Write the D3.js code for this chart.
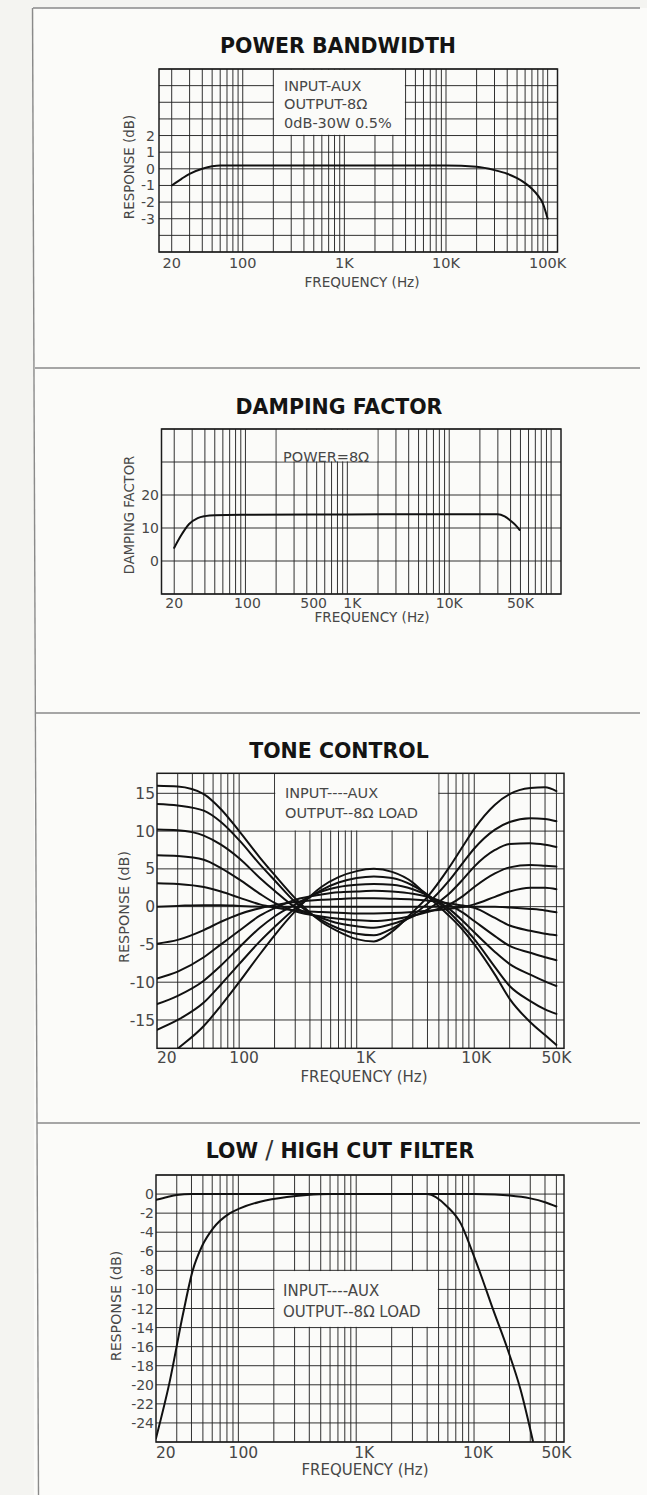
<!DOCTYPE html>
<html>
<head>
<meta charset="utf-8">
<title>Amplifier response charts</title>
<script src="https://cdn.jsdelivr.net/npm/d3@7"></script>
<style>
    body { margin: 0; background: #f4f4f1; }
    svg { display: block; }
    .grid line { stroke: #262626; stroke-width: 0.95; }
    .frame { fill: none; stroke: #1c1c1c; stroke-width: 1.5; }
    .curve { fill: none; stroke: #111; stroke-width: 2; stroke-linejoin: round; stroke-linecap: round; }
    .title { font-family: "DejaVu Sans", sans-serif; font-weight: bold; font-size: 20.5px; fill: #141414; }
    .lbl { font-family: "DejaVu Sans", sans-serif; font-weight: normal; fill: #474747; }
</style>
</head>
<body>
<svg id="chart" width="647" height="1495"></svg>
<script>
// ---- POWER BANDWIDTH ----
const pbFreq = [20, 25, 30, 40, 50, 60, 100, 1000, 10000, 20000, 30000, 40000, 50000, 60000, 70000, 80000, 90000, 100000];
const pbResp = [-1.0, -0.6, -0.3, 0.0, 0.15, 0.2, 0.2, 0.2, 0.2, 0.12, -0.08, -0.3, -0.56, -0.86, -1.2, -1.6, -2.1, -3.0];
const pbXTicks = [20, 100, 1000, 10000, 100000];
const pbXLabels = ["20", "100", "1K", "10K", "100K"];
const pbYTicks = [2, 1, 0, -1, -2, -3];
const pbNotes = ["INPUT-AUX", "OUTPUT-8Ω", "0dB-30W 0.5%"];

// ---- DAMPING FACTOR ----
const dfFreq = [20, 23, 28, 34, 40, 50, 100, 1000, 10000, 30000, 35000, 40000, 45000, 49000];
const dfValue = [4.0, 7.4, 11.2, 13.0, 13.6, 13.9, 14.0, 14.1, 14.2, 14.2, 13.5, 12.2, 10.8, 9.4];
const dfXTicks = [20, 100, 500, 1000, 10000, 50000];
const dfXLabels = ["20", "100", "500", "1K", "10K", "50K"];
const dfYTicks = [20, 10, 0];
const dfNotes = ["POWER=8Ω"];

// ---- TONE CONTROL ----
const toneFreq = [20, 30, 50, 70, 100, 150, 200, 300, 500, 700, 1000, 1400, 2000, 3000, 4000, 6000, 8000, 10000, 15000, 20000, 30000, 40000, 50000];
const tone1  = [16.0, 15.9, 14.9, 12.9, 10.0, 6.5, 4.2, 1.1, -2.0, -3.3, -4.3, -4.6, -3.3, -0.7, 1.3, 5.0, 8.0, 10.3, 13.5, 14.9, 15.7, 15.8, 15.3];
const tone2  = [13.6, 13.4, 12.7, 11.2, 8.8, 5.6, 3.5, 0.6, -1.8, -2.9, -3.6, -3.8, -2.9, -1.1, 0.4, 3.3, 5.8, 7.7, 10.2, 11.2, 11.7, 11.6, 11.3];
const tone3  = [10.2, 10.1, 9.4, 8.2, 6.4, 3.8, 2.1, -0.1, -1.5, -2.2, -2.6, -2.8, -2.3, -1.3, -0.4, 1.6, 3.6, 5.3, 7.5, 8.3, 8.4, 8.2, 7.9];
const tone4  = [6.8, 6.7, 6.2, 5.1, 3.6, 1.7, 0.5, -0.6, -1.3, -1.6, -1.8, -1.9, -1.7, -1.2, -0.7, 0.2, 1.4, 2.6, 4.4, 5.2, 5.5, 5.4, 5.3];
const tone5  = [3.1, 3.0, 2.6, 2.0, 1.2, 0.3, -0.1, -0.5, -0.7, -0.8, -0.9, -0.9, -0.85, -0.7, -0.55, -0.3, -0.05, 0.3, 1.3, 2.0, 2.5, 2.5, 2.3];
const tone6  = [0.0, 0.1, 0.2, 0.2, 0.1, 0.0, 0.0, 0.0, 0.0, 0.0, 0.0, 0.0, 0.0, 0.0, 0.0, 0.0, 0.0, 0.0, 0.0, -0.1, -0.3, -0.5, -0.75];
const tone7  = [-4.9, -4.4, -3.1, -2.0, -1.0, -0.2, 0.2, 0.6, 0.9, 1.0, 1.1, 1.1, 1.05, 0.95, 0.8, 0.45, 0.15, -0.15, -1.5, -2.5, -3.2, -3.6, -3.8];
const tone8  = [-9.5, -8.6, -6.7, -5.0, -3.2, -1.2, -0.2, 0.9, 1.6, 1.9, 2.0, 2.1, 2.0, 1.7, 1.3, 0.3, -0.8, -1.9, -3.9, -5.2, -6.1, -6.7, -7.1];
const tone9  = [-12.9, -11.8, -9.8, -7.8, -5.4, -2.8, -1.3, 0.3, 2.0, 2.6, 2.9, 3.0, 2.9, 2.3, 1.5, -0.2, -1.9, -3.4, -6.0, -7.6, -9.0, -9.9, -10.5];
const tone10 = [-16.3, -15.0, -12.7, -10.3, -7.6, -4.6, -2.7, -0.2, 2.2, 3.2, 3.8, 4.0, 3.8, 2.8, 1.6, -0.6, -2.6, -4.3, -8.0, -10.5, -12.5, -13.6, -14.2];
const tone11 = [-21.0, -18.8, -15.8, -13.1, -10.0, -6.3, -3.8, -0.6, 2.6, 3.9, 4.7, 5.0, 4.6, 3.2, 1.4, -1.1, -3.1, -5.0, -9.0, -12.2, -15.3, -17.0, -18.3];
const toneCurves = [tone1, tone2, tone3, tone4, tone5, tone6, tone7, tone8, tone9, tone10, tone11];
const toneXTicks = [20, 100, 1000, 10000, 50000];
const toneXLabels = ["20", "100", "1K", "10K", "50K"];
const toneYTicks = [15, 10, 5, 0, -5, -10, -15];
const toneNotes = ["INPUT----AUX", "OUTPUT--8Ω LOAD"];

// ---- LOW / HIGH CUT FILTER ----
const cutOffFreq = [20, 25, 30, 40, 100, 1000, 10000, 15000, 20000, 30000, 40000, 50000];
const cutOffResp = [-0.6, -0.3, -0.1, 0.0, 0.0, 0.0, 0.0, -0.05, -0.15, -0.45, -0.85, -1.3];
const cutOnFreq = [20, 26, 34, 41, 49, 61, 85, 103, 153, 258, 382, 600, 1000, 4000, 5900, 7800, 9300, 11300, 14500, 19300, 24800, 31600];
const cutOnResp = [-25.6, -19.8, -12.5, -8.0, -5.5, -3.6, -2.0, -1.5, -0.8, -0.3, -0.1, 0.0, 0.0, 0.0, -1.3, -3.2, -5.5, -8.3, -12.1, -16.3, -20.5, -25.9];
const cutXTicks = [20, 100, 1000, 10000, 50000];
const cutXLabels = ["20", "100", "1K", "10K", "50K"];
const cutYTicks = [0, -2, -4, -6, -8, -10, -12, -14, -16, -18, -20, -22, -24];
const cutNotes = ["INPUT----AUX", "OUTPUT--8Ω LOAD"];

const svg = d3.select("#chart");

// page: off-white sheet with thin rules
svg.append("rect").attr("x", 34).attr("y", 8).attr("width", 613).attr("height", 1487).attr("fill", "#fbfbf9");
const rules = svg.append("g").attr("stroke", "#8a8a8a").attr("stroke-width", 1.4);
rules.append("line").attr("x1", 32.5).attr("y1", 8).attr("x2", 38.5).attr("y2", 1495);
[[8, 33], [368, 35], [713, 36], [1123, 37]].forEach(([yy, xx]) => {
    rules.append("line").attr("x1", xx).attr("y1", yy).attr("x2", 640).attr("y2", yy);
});

let clipId = 0;

function drawPanel(p) {
    const x = d3.scaleLog().domain(p.fDomain).range([p.left, p.right]);
    const y = d3.scaleLinear().domain(p.yDomain).range([p.bottom, p.top]);
    const g = svg.append("g");

    // log paper grid
    const grid = g.append("g").attr("class", "grid");
    grid.selectAll("line.v")
        .data(x.ticks().filter(f => f > p.fDomain[0] * 1.01 && f < p.fDomain[1] * 0.99))
        .enter().append("line").attr("class", "v")
        .attr("x1", d => x(d)).attr("x2", d => x(d))
        .attr("y1", p.top).attr("y2", p.bottom);
    grid.selectAll("line.h")
        .data(d3.range(p.gridFrom, p.gridTo + 0.001, p.gridStep))
        .enter().append("line").attr("class", "h")
        .attr("x1", p.left).attr("x2", p.right)
        .attr("y1", d => y(d)).attr("y2", d => y(d));

    // white note box sitting on the grid
    const bx0 = x(p.box.f0), bx1 = x(p.box.f1);
    const by0 = y(p.box.v0), by1 = y(p.box.v1);
    g.append("rect")
        .attr("x", bx0 + 0.7).attr("y", by0 + 0.7)
        .attr("width", bx1 - bx0 - 1.4).attr("height", by1 - by0 - 1.4)
        .attr("fill", "#fbfbf9");
    g.selectAll("text.note")
        .data(p.notes)
        .enter().append("text").attr("class", "lbl note")
        .attr("x", p.noteX).attr("y", (d, i) => p.noteY + i * p.noteGap)
        .attr("font-size", p.noteSize)
        .text(d => d);

    g.append("rect").attr("class", "frame")
        .attr("x", p.left).attr("y", p.top)
        .attr("width", p.right - p.left).attr("height", p.bottom - p.top);

    // curves
    const id = "clip" + (clipId++);
    g.append("clipPath").attr("id", id)
        .append("rect").attr("x", p.left).attr("y", p.top)
        .attr("width", p.right - p.left).attr("height", p.bottom - p.top);
    const line = d3.line()
        .x(d => x(d[0])).y(d => y(d[1]))
        .curve(d3.curveMonotoneX);
    g.append("g").attr("clip-path", "url(#" + id + ")")
        .selectAll("path")
        .data(p.series)
        .enter().append("path").attr("class", "curve")
        .attr("stroke-width", p.curveWidth)
        .attr("d", s => line(d3.zip(s.f, s.v)));

    // x tick labels
    g.selectAll("text.xl")
        .data(p.xTicks)
        .enter().append("text").attr("class", "lbl xl")
        .attr("x", (d, i) => x(d) + (p.xDx ? p.xDx[i] : 0))
        .attr("y", p.xLabelY)
        .attr("font-size", p.xSize)
        .attr("text-anchor", (d, i) => (i === 0 && p.firstStart) ? "start" : "middle")
        .text((d, i) => p.xLabels[i]);

    // y tick labels
    g.selectAll("text.yl")
        .data(p.yTicks)
        .enter().append("text").attr("class", "lbl yl")
        .attr("x", p.yLabelX)
        .attr("y", d => y(d) + p.ySize * 0.36)
        .attr("font-size", p.ySize)
        .attr("text-anchor", "end")
        .text(d => String(d));

    // axis titles
    g.append("text").attr("class", "lbl")
        .attr("x", p.freqX).attr("y", p.freqY)
        .attr("font-size", p.freqSize)
        .attr("text-anchor", "middle")
        .text("FREQUENCY (Hz)");
    g.append("text").attr("class", "lbl")
        .attr("transform", "translate(" + p.yTitleX + "," + p.yTitleY + ") rotate(-90)")
        .attr("font-size", p.yTitleSize)
        .attr("text-anchor", "middle")
        .attr("dy", "0.36em")
        .text(p.yTitle);

    const t = g.append("text").attr("class", "title")
        .attr("x", p.titleX).attr("y", p.titleY)
        .attr("text-anchor", "middle");
    p.title.forEach(part => {
        const ts = t.append("tspan").text(part.text);
        if (part.light) ts.attr("font-weight", "normal").attr("font-size", 24).attr("fill", "#333");
    });
}

drawPanel({
    left: 159, right: 557.5, top: 69, bottom: 252,
    fDomain: [15, 125000], yDomain: [-5, 6],
    gridFrom: -5, gridTo: 6, gridStep: 1,
    box: { f0: 200, f1: 4000, v0: 6, v1: 2 },
    notes: pbNotes, noteX: 284, noteY: 90.5, noteGap: 18.5, noteSize: 14.5,
    series: [{ f: pbFreq, v: pbResp }], curveWidth: 2,
    xTicks: pbXTicks, xLabels: pbXLabels, xLabelY: 268, xSize: 14.5,
    yTicks: pbYTicks, yLabelX: 155, ySize: 14,
    freqX: 362, freqY: 287, freqSize: 13.6,
    yTitle: "RESPONSE (dB)", yTitleX: 129, yTitleY: 167, yTitleSize: 13.4,
    title: [{ text: "POWER BANDWIDTH" }], titleX: 338, titleY: 53
});

drawPanel({
    left: 161.5, right: 561, top: 429, bottom: 594,
    fDomain: [15, 125000], yDomain: [-10, 40],
    gridFrom: -10, gridTo: 40, gridStep: 10,
    box: { f0: 200, f1: 2000, v0: 40, v1: 30 },
    notes: dfNotes, noteX: 283, noteY: 462, noteGap: 18, noteSize: 14.5,
    series: [{ f: dfFreq, v: dfValue }], curveWidth: 2,
    xTicks: dfXTicks, xLabels: dfXLabels, xLabelY: 608, xSize: 14,
    xDx: [0, 2, -3, 5, 0, 0],
    yTicks: dfYTicks, yLabelX: 159, ySize: 14,
    freqX: 372, freqY: 622, freqSize: 13.6,
    yTitle: "DAMPING FACTOR", yTitleX: 129, yTitleY: 515, yTitleSize: 13.2,
    title: [{ text: "DAMPING FACTOR" }], titleX: 339, titleY: 414
});

drawPanel({
    left: 157, right: 564, top: 773.3, bottom: 1048.3,
    fDomain: [20, 58000], yDomain: [-18.75, 17.65],
    gridFrom: -15, gridTo: 15, gridStep: 5,
    box: { f0: 200, f1: 5000, v0: 17.65, v1: 10 },
    notes: toneNotes, noteX: 285, noteY: 798, noteGap: 20, noteSize: 14.5,
    series: toneCurves.map(v => ({ f: toneFreq, v: v })), curveWidth: 1.9,
    xTicks: toneXTicks, xLabels: toneXLabels, xLabelY: 1063, xSize: 15.5, firstStart: true,
    xDx: [0, 5, 9, 2, 0],
    yTicks: toneYTicks, yLabelX: 155, ySize: 15.5,
    freqX: 364, freqY: 1082, freqSize: 15,
    yTitle: "RESPONSE (dB)", yTitleX: 124, yTitleY: 907, yTitleSize: 14.4,
    title: [{ text: "TONE CONTROL" }], titleX: 339, titleY: 758
});

drawPanel({
    left: 156, right: 564, top: 1175, bottom: 1442,
    fDomain: [20, 58000], yDomain: [-26, 2],
    gridFrom: -26, gridTo: 2, gridStep: 2,
    box: { f0: 200, f1: 5000, v0: -8, v1: -14 },
    notes: cutNotes, noteX: 283, noteY: 1296, noteGap: 21, noteSize: 15,
    series: [{ f: cutOffFreq, v: cutOffResp }, { f: cutOnFreq, v: cutOnResp }], curveWidth: 2,
    xTicks: cutXTicks, xLabels: cutXLabels, xLabelY: 1458, xSize: 15.5, firstStart: true,
    xDx: [0, 5, 8, 4, 0],
    yTicks: cutYTicks, yLabelX: 154, ySize: 14,
    freqX: 365, freqY: 1475, freqSize: 15,
    yTitle: "RESPONSE (dB)", yTitleX: 116, yTitleY: 1306, yTitleSize: 14.2,
    title: [{ text: "LOW " }, { text: "/", light: true }, { text: " HIGH CUT FILTER" }], titleX: 340, titleY: 1158
});
</script>
</body>
</html>
